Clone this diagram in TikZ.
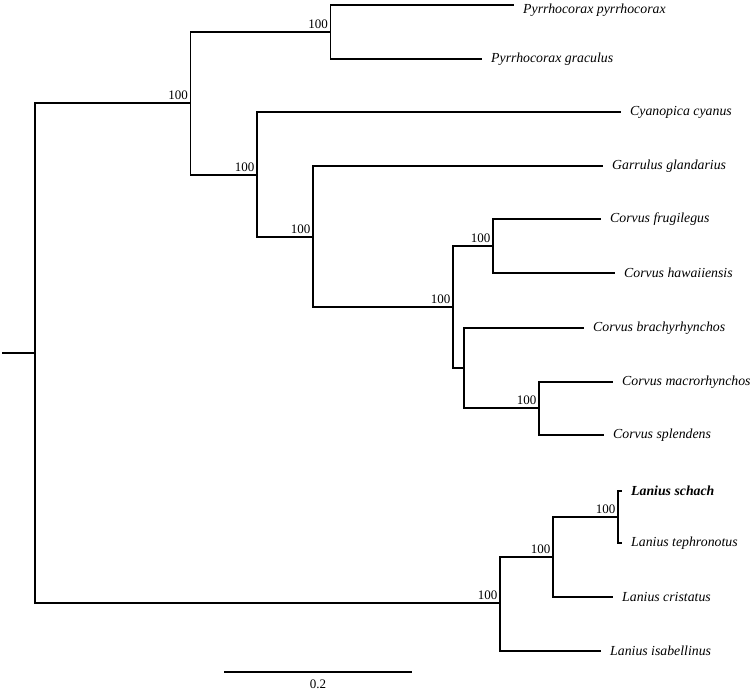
\documentclass[tikz,border=0pt]{standalone}
\usepackage{fontspec}
\setmainfont{Liberation Serif}
\usepackage{tikz}
\usetikzlibrary{positioning}

\begin{document}
\begin{tikzpicture}[
 x=1pt, y=-1pt, node distance=9pt,
 branch/.style={line width=1.8pt, line cap=rect},
 leaf/.style={anchor=west, inner sep=1pt, font=\fontsize{13.8}{16}\itshape\selectfont},
 boot/.style={anchor=south east, inner sep=0.5pt, xshift=-2pt, yshift=2.5pt, font=\fontsize{13}{15}\selectfont}]
\useasboundingbox (0,0) rectangle (755,692);
% internal nodes
\coordinate (stub) at (3,353);
\coordinate (root) at (35,353);
\coordinate (nA) at (190.5,103);
\coordinate (nP) at (330.5,32);
\coordinate (nB) at (257,175);
\coordinate (nC) at (313,237);
\coordinate (nD) at (453,307);
\coordinate (nE) at (493,246);
\coordinate (nF) at (464,368);
\coordinate (nG) at (539,408);
\coordinate (nH) at (500,603);
\coordinate (nI) at (553,557);
\coordinate (nJ) at (618,517);
% tips
\coordinate (l1) at (513,5);
\coordinate (l2) at (481,59);
\coordinate (l3) at (620,112);
\coordinate (l4) at (602,166);
\coordinate (l5) at (600,219);
\coordinate (l6) at (614,273);
\coordinate (l7) at (583,328);
\coordinate (l8) at (612,382);
\coordinate (l9) at (603,435);
\coordinate (l10) at (621,491);
\coordinate (l11) at (621,543);
\coordinate (l12) at (612,597);
\coordinate (l13) at (600,651);
% branches
\draw[branch] (stub) -- (root);
\draw[branch] (root) |- (nA) (root) |- (nH);
\draw[branch] (nA) |- (nP) (nA) |- (nB);
\draw[branch] (nP) |- (l1) (nP) |- (l2);
\draw[branch] (nB) |- (l3) (nB) |- (nC);
\draw[branch] (nC) |- (l4) (nC) |- (nD);
\draw[branch] (nD) |- (nE) (nD) |- (nF);
\draw[branch] (nE) |- (l5) (nE) |- (l6);
\draw[branch] (nF) |- (l7) (nF) |- (nG);
\draw[branch] (nG) |- (l8) (nG) |- (l9);
\draw[branch] (nH) |- (nI) (nH) |- (l13);
\draw[branch] (nI) |- (nJ) (nI) |- (l12);
\draw[branch] (nJ) |- (l10) (nJ) |- (l11);
% taxa
\node[leaf, right=of l1, yshift=-5pt] (t1) {Pyrrhocorax pyrrhocorax};
\node[leaf, right=of l2] (t2) {Pyrrhocorax graculus};
\node[leaf, right=of l3] (t3) {Cyanopica cyanus};
\node[leaf, right=of l4] (t4) {Garrulus glandarius};
\node[leaf, right=of l5] (t5) {Corvus frugilegus};
\node[leaf, right=of l6] (t6) {Corvus hawaiiensis};
\node[leaf, right=of l7] (t7) {Corvus brachyrhynchos};
\node[leaf, right=of l8] (t8) {Corvus macrorhynchos};
\node[leaf, right=of l9] (t9) {Corvus splendens};
\node[leaf, right=of l10, font=\fontsize{13.8}{16}\bfseries\itshape\selectfont] (t10) {Lanius schach};
\node[leaf, right=of l11] (t11) {Lanius tephronotus};
\node[leaf, right=of l12] (t12) {Lanius cristatus};
\node[leaf, right=of l13] (t13) {Lanius isabellinus};
% bootstrap
\foreach \n in {nA,nP,nB,nC,nD,nE,nG,nH,nI,nJ}
  \node[boot] (b\n) at (\n) {100};
% scale bar
\coordinate (sb1) at (224,672);
\coordinate (sb2) at (412,672);
\draw[branch, line cap=butt] (sb1) -- (sb2) coordinate[midway] (sbm);
\node[below=7pt of sbm, inner sep=1pt, font=\fontsize{13}{15}\selectfont] (sbl) {0.2};
\end{tikzpicture}
\end{document}
